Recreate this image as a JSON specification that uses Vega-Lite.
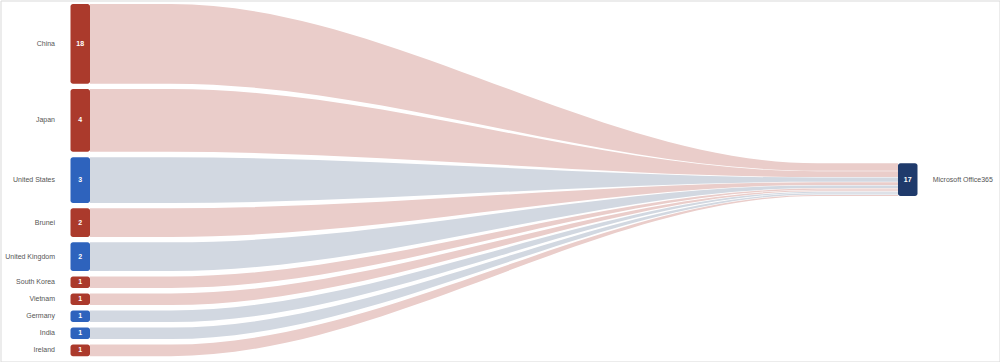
{
  "$schema": "https://vega.github.io/schema/vega-lite/v6.json",
  "width": 999,
  "height": 361,
  "autosize": {"type": "none"},
  "padding": 0.5,
  "background": "white",
  "config": {"font": "Liberation Sans", "view": {"stroke": "#d9d9d9", "strokeWidth": 1}},
  "datasets": {
    "links": [
      {"source": "China", "target": "Microsoft Office365", "count": 18, "weight": 5, "group": "A"},
      {"source": "Japan", "target": "Microsoft Office365", "count": 4, "weight": 4, "group": "A"},
      {"source": "United States", "target": "Microsoft Office365", "count": 3, "weight": 3, "group": "B"},
      {"source": "Brunei", "target": "Microsoft Office365", "count": 2, "weight": 2, "group": "A"},
      {"source": "United Kingdom", "target": "Microsoft Office365", "count": 2, "weight": 2, "group": "B"},
      {"source": "South Korea", "target": "Microsoft Office365", "count": 1, "weight": 1, "group": "A"},
      {"source": "Vietnam", "target": "Microsoft Office365", "count": 1, "weight": 1, "group": "A"},
      {"source": "Germany", "target": "Microsoft Office365", "count": 1, "weight": 1, "group": "B"},
      {"source": "India", "target": "Microsoft Office365", "count": 1, "weight": 1, "group": "B"},
      {"source": "Ireland", "target": "Microsoft Office365", "count": 1, "weight": 1, "group": "A"}
    ],
    "targets": [
      {"name": "Microsoft Office365", "tcount": 17}
    ]
  },
  "data": {"name": "links"},
  "transform": [
    {"window": [{"op": "row_number", "as": "rn"}]},
    {"joinaggregate": [{"op": "sum", "field": "weight", "as": "tot"}]},
    {"stack": "weight", "groupby": [], "offset": "zero", "sort": [{"field": "rn", "order": "ascending"}], "as": ["s0", "s1"]},
    {"calculate": "datum.s0 - datum.tot / 2 + 0.159", "as": "a0"},
    {"calculate": "datum.s1 - datum.tot / 2 - 0.159", "as": "a1"},
    {"calculate": "datum.a0 * 0.0928 - 0.0235", "as": "b0"},
    {"calculate": "datum.a1 * 0.0928 - 0.0235", "as": "b1"},
    {"calculate": "(datum.a0 + datum.a1) / 2", "as": "am"}
  ],
  "resolve": {"scale": {"color": "independent"}},
  "layer": [
    {
      "transform": [
        {"fold": ["p0", "p1", "p2", "p3"], "as": ["stage", "unused"]},
        {"calculate": "datum.stage == 'p0' ? 0 : datum.stage == 'p1' ? 0.1 : datum.stage == 'p2' ? 0.9 : 1", "as": "t"},
        {"calculate": "(datum.stage == 'p0' || datum.stage == 'p1') ? datum.a0 : datum.b0", "as": "yt"},
        {"calculate": "(datum.stage == 'p0' || datum.stage == 'p1') ? datum.a1 : datum.b1", "as": "yb"}
      ],
      "mark": {"type": "area", "interpolate": "monotone"},
      "encoding": {
        "x": {"field": "t", "type": "quantitative", "scale": {"domain": [-0.11077, 1.12562], "nice": false, "zero": false}, "axis": null},
        "y": {"field": "yt", "type": "quantitative", "stack": null, "scale": {"domain": [-10.543, 10.655], "reverse": true, "nice": false, "zero": false}, "axis": null},
        "y2": {"field": "yb"},
        "detail": {"field": "source"},
        "color": {"field": "group", "type": "nominal", "scale": {"domain": ["A", "B"], "range": ["#eacdca", "#d2d8e1"]}, "legend": null}
      }
    },
    {
      "mark": {"type": "rect", "xOffset": -19.5, "cornerRadius": 2.5},
      "encoding": {
        "x": {"datum": 0, "type": "quantitative", "scale": {"domain": [-0.11077, 1.12562], "nice": false, "zero": false}, "axis": null},
        "x2": {"datum": 0},
        "y": {"field": "a0", "type": "quantitative", "scale": {"domain": [-10.543, 10.655], "reverse": true, "nice": false, "zero": false}, "axis": null},
        "y2": {"field": "a1"},
        "color": {"field": "group", "type": "nominal", "scale": {"domain": ["A", "B"], "range": ["#ab3a2c", "#2e63bd"]}, "legend": null}
      }
    },
    {
      "mark": {"type": "text", "dx": -9.75, "align": "center", "baseline": "middle", "fontSize": 7, "fontWeight": "bold", "color": "white"},
      "encoding": {
        "x": {"datum": 0, "type": "quantitative", "scale": {"domain": [-0.11077, 1.12562], "nice": false, "zero": false}, "axis": null},
        "y": {"field": "am", "type": "quantitative", "scale": {"domain": [-10.543, 10.655], "reverse": true, "nice": false, "zero": false}, "axis": null},
        "text": {"field": "count", "type": "quantitative"}
      }
    },
    {
      "mark": {"type": "text", "dx": -35, "align": "right", "baseline": "middle", "fontSize": 7, "color": "#555555"},
      "encoding": {
        "x": {"datum": 0, "type": "quantitative", "scale": {"domain": [-0.11077, 1.12562], "nice": false, "zero": false}, "axis": null},
        "y": {"field": "am", "type": "quantitative", "scale": {"domain": [-10.543, 10.655], "reverse": true, "nice": false, "zero": false}, "axis": null},
        "text": {"field": "source", "type": "nominal"}
      }
    },
    {
      "transform": [
        {"aggregate": [{"op": "min", "field": "b0", "as": "r0"}, {"op": "max", "field": "b1", "as": "r1"}], "groupby": ["target"]},
        {"lookup": "target", "from": {"data": {"name": "targets"}, "key": "name", "fields": ["tcount"]}},
        {"calculate": "(datum.r0 + datum.r1) / 2", "as": "rm"}
      ],
      "layer": [
        {
          "mark": {"type": "rect", "x2Offset": 19.5, "cornerRadius": 2.5, "color": "#1f3a6b"},
          "encoding": {
            "x": {"datum": 1, "type": "quantitative", "scale": {"domain": [-0.11077, 1.12562], "nice": false, "zero": false}, "axis": null},
            "x2": {"datum": 1},
            "y": {"field": "r0", "type": "quantitative", "scale": {"domain": [-10.543, 10.655], "reverse": true, "nice": false, "zero": false}, "axis": null},
            "y2": {"field": "r1"}
          }
        },
        {
          "mark": {"type": "text", "dx": 9.75, "align": "center", "baseline": "middle", "fontSize": 7, "fontWeight": "bold", "color": "white"},
          "encoding": {
            "x": {"datum": 1, "type": "quantitative", "scale": {"domain": [-0.11077, 1.12562], "nice": false, "zero": false}, "axis": null},
            "y": {"field": "rm", "type": "quantitative", "scale": {"domain": [-10.543, 10.655], "reverse": true, "nice": false, "zero": false}, "axis": null},
            "text": {"field": "tcount", "type": "quantitative"}
          }
        },
        {
          "mark": {"type": "text", "dx": 34.7, "align": "left", "baseline": "middle", "fontSize": 7, "color": "#555555"},
          "encoding": {
            "x": {"datum": 1, "type": "quantitative", "scale": {"domain": [-0.11077, 1.12562], "nice": false, "zero": false}, "axis": null},
            "y": {"field": "rm", "type": "quantitative", "scale": {"domain": [-10.543, 10.655], "reverse": true, "nice": false, "zero": false}, "axis": null},
            "text": {"field": "target", "type": "nominal"}
          }
        }
      ]
    }
  ]
}
